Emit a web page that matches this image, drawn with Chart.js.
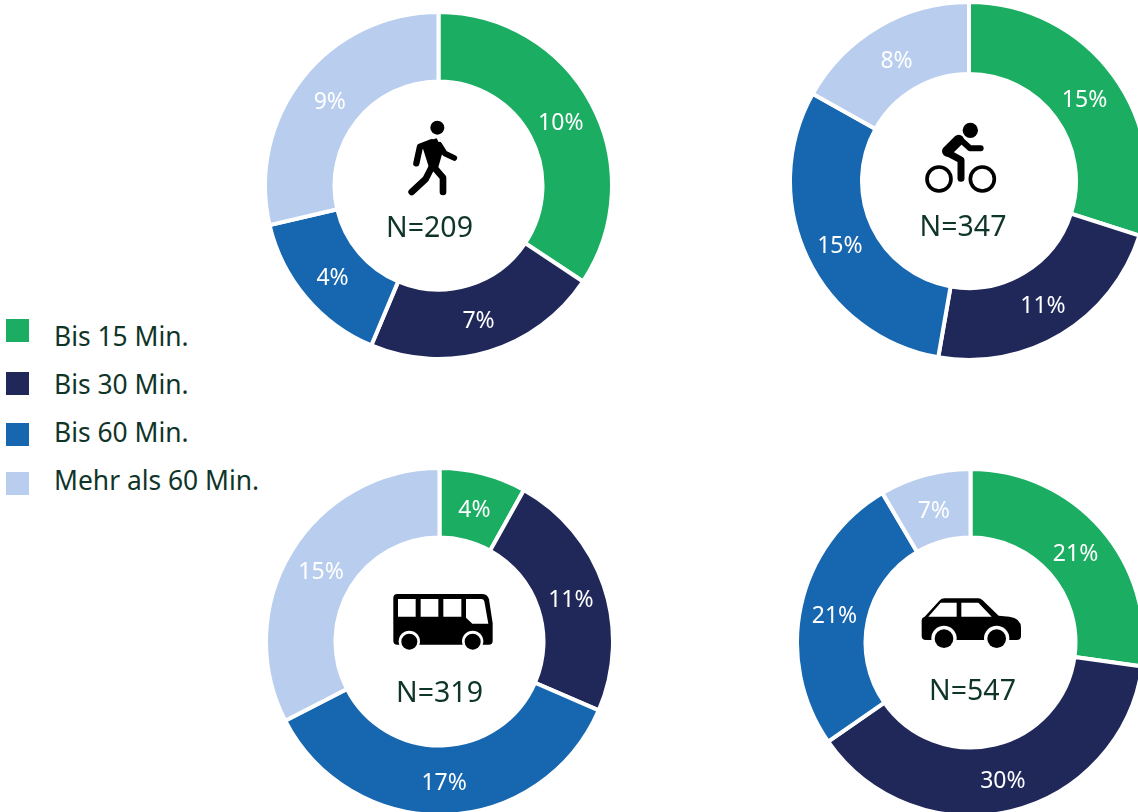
<!DOCTYPE html>
<html>
<head>
<meta charset="utf-8">
<script src="https://cdn.jsdelivr.net/npm/chart.js@4"></script>
<style>
    html, body { margin: 0; padding: 0; width: 1138px; height: 812px; overflow: hidden; background: #fff; }
    body { position: relative; font-family: "Noto Sans", sans-serif; }
    canvas { position: absolute; }
    svg { position: absolute; }
    .swatch { position: absolute; left: 6px; width: 23px; height: 23px; }
    .legendText { position: absolute; left: 54px; font-size: 26.4px; line-height: 34px; color: #0f3529; white-space: nowrap; }
</style>
</head>
<body>
<svg style="left:380px;top:110px" width="110" height="130" viewBox="0 0 330 390" fill="none" stroke="#000" stroke-linecap="round" stroke-linejoin="round">
    <circle cx="172" cy="53" r="21" fill="#000" stroke="none"/>
    <path d="M128 103 L168 88 L186 122 L170 178 L150 172 Z" fill="#000" stroke="#000" stroke-width="6"/>
    <path d="M155 97 L120 110 L109 160" stroke-width="19"/>
    <path d="M178 104 L194 130 L223 144" stroke-width="17"/>
    <path d="M155 172 L137 207 L95 246" stroke-width="20"/>
    <path d="M165 175 L189 203 L189 246" stroke-width="20"/>
</svg>
<svg style="left:910px;top:110px" width="110" height="130" viewBox="0 0 330 390" fill="none" stroke="#000" stroke-linecap="round" stroke-linejoin="round">
    <circle cx="181" cy="61" r="23" fill="#000" stroke="none"/>
    <circle cx="87" cy="207" r="36" stroke-width="11"/>
    <circle cx="217" cy="207" r="36" stroke-width="11"/>
    <path d="M146 90 L112 124" stroke-width="32"/>
    <path d="M150 88 L180 115 L212 115" stroke-width="18"/>
    <path d="M112 128 L153 150 L153 205" stroke-width="21"/>
</svg>
<svg style="left:380px;top:580px" width="130" height="80" viewBox="0 0 390 240">
    <path d="M52 42 L305 42 Q323 42 327 58 L338 130 L338 182 Q338 194 326 194 L52 194 Q40 194 40 182 L40 54 Q40 42 52 42 Z" fill="#000"/>
    <path d="M54 57H107V110H54Z M122 57H175V110H122Z M190 57H244V110H190Z M258 57H304Q311 57 313 64L325 131H277L258 113Z" fill="#fff"/>
    <circle cx="88" cy="184" r="32" fill="#fff"/>
    <circle cx="278" cy="184" r="32" fill="#fff"/>
    <circle cx="88" cy="185" r="24" fill="#000"/>
    <circle cx="278" cy="185" r="24" fill="#000"/>
</svg>
<svg style="left:910px;top:585px" width="120" height="70" viewBox="0 0 360 210">
    <path d="M44 95 L88 47 Q94 40 104 40 L205 40 Q212 40 218 46 L266 92 L298 95 Q333 100 333 128 L333 152 Q333 165 320 165 L48 165 Q35 165 35 152 L35 105 Q35 98 44 95 Z" fill="#000"/>
    <path d="M55 95 L92 53 L140 53 L140 95 Z M154 53 L205 53 L245 95 L154 95 Z" fill="#fff"/>
    <circle cx="102" cy="160" r="38" fill="#fff"/>
    <circle cx="260" cy="160" r="38" fill="#fff"/>
    <circle cx="102" cy="161" r="28" fill="#000"/>
    <circle cx="260" cy="161" r="28" fill="#000"/>
</svg>
<script>
const categories = ['Bis 15 Min.', 'Bis 30 Min.', 'Bis 60 Min.', 'Mehr als 60 Min.'];
const colors = ['#1bae62', '#20285a', '#1666b0', '#b9ceee'];

const walkValues = [10.3, 6.6, 4.5, 8.6];
const bikeValues = [14.7, 11.2, 14.9, 8.3];
const busValues = [3.8, 11, 16.9, 15.3];
const carValues = [21.5, 30.1, 20.7, 6.7];

const walkLabels = ['10%', '7%', '4%', '9%'];
const bikeLabels = ['15%', '11%', '15%', '8%'];
const busLabels = ['4%', '11%', '17%', '15%'];
const carLabels = ['21%', '30%', '21%', '7%'];

const sampleSizes = ['N=209', 'N=347', 'N=319', 'N=547'];

const ringBorder = 4;

// draws the percent labels in the ring and the N= text in the hole
const ringText = {
    id: 'ringText',
    afterDatasetsDraw(chart, args, opts) {
        const ctx = chart.ctx;
        const arcs = chart.getDatasetMeta(0).data;
        ctx.save();
        ctx.textAlign = 'center';
        ctx.textBaseline = 'middle';
        ctx.font = '23px "Noto Sans"';
        ctx.fillStyle = '#fff';
        arcs.forEach((arc, i) => {
            const mid = (arc.startAngle + arc.endAngle) / 2;
            const r = (arc.innerRadius + arc.outerRadius) / 2;
            ctx.fillText(opts.labels[i], arc.x + Math.cos(mid) * r, arc.y + Math.sin(mid) * r + 3.5);
        });
        ctx.font = '28.5px "Noto Sans"';
        ctx.fillStyle = '#0f3529';
        ctx.fillText(opts.total, arcs[0].x + opts.totalDx, arcs[0].y + opts.totalDy);
        ctx.restore();
    }
};

function makeDonut(values, labels, total, cx, cy, radius, inner, totalDx, totalDy) {
    const canvas = document.createElement('canvas');
    const size = radius * 2 + ringBorder * 2;
    canvas.width = size;
    canvas.height = size;
    canvas.style.left = (cx - size / 2) + 'px';
    canvas.style.top = (cy - size / 2) + 'px';
    document.body.insertBefore(canvas, document.body.firstChild);

    new Chart(canvas.getContext('2d'), {
        type: 'doughnut',
        data: {
            labels: categories,
            datasets: [{
                data: values,
                backgroundColor: colors,
                borderColor: '#fff',
                borderWidth: ringBorder
            }]
        },
        options: {
            responsive: false,
            animation: false,
            cutout: inner - ringBorder / 2,
            plugins: {
                legend: { display: false },
                tooltip: { enabled: false },
                ringText: { labels: labels, total: total, totalDx: totalDx, totalDy: totalDy }
            }
        },
        plugins: [ringText]
    });
}

makeDonut(walkValues, walkLabels, sampleSizes[0], 438.5, 185.5, 171.5, 106, -9, 43);
makeDonut(bikeValues, bikeLabels, sampleSizes[1], 969, 181, 177, 109, -6, 47);
makeDonut(busValues, busLabels, sampleSizes[2], 439.5, 641.5, 171.5, 106, 0, 52);
makeDonut(carValues, carLabels, sampleSizes[3], 970.5, 642.5, 171.5, 107, 2, 49);

// legend built from the same categories and colours
const swatchTops = [319, 372, 423, 472];
const textTops = [319, 367, 415, 463];
categories.forEach((name, i) => {
    const swatch = document.createElement('div');
    swatch.className = 'swatch';
    swatch.style.top = swatchTops[i] + 'px';
    swatch.style.background = colors[i];
    document.body.appendChild(swatch);

    const text = document.createElement('div');
    text.className = 'legendText';
    text.style.top = textTops[i] + 'px';
    text.textContent = name;
    document.body.appendChild(text);
});
</script>
</body>
</html>
